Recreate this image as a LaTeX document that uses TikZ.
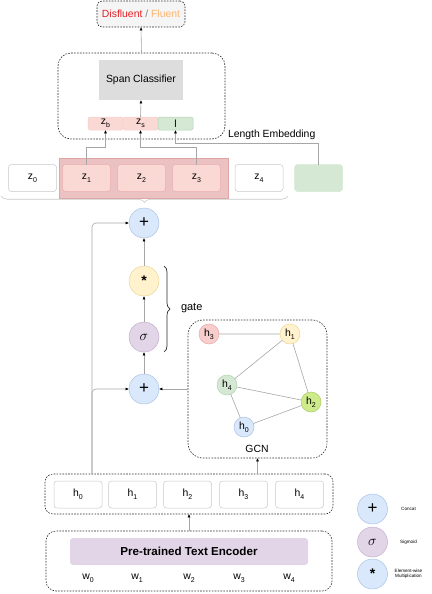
\documentclass[tikz,border=0pt]{standalone}
\usepackage{fontspec}
\setmainfont{Liberation Sans}
\usetikzlibrary{arrows.meta,decorations.pathreplacing,calc}
\definecolor{bluef}{HTML}{DAE8FC}
\definecolor{blued}{HTML}{A9C1E3}
\definecolor{yelf}{HTML}{FFF2CC}
\definecolor{yeld}{HTML}{EBD79A}
\definecolor{purf}{HTML}{E1D5E7}
\definecolor{purd}{HTML}{C3B0CC}
\definecolor{redf}{HTML}{F8CECC}
\definecolor{redd}{HTML}{E8AAA8}
\definecolor{grnf}{HTML}{D5E8D4}
\definecolor{grnd}{HTML}{B3D2B1}
\definecolor{limef}{HTML}{CDEB8B}
\definecolor{limed}{HTML}{A8CC66}
\definecolor{zbg}{HTML}{EBC1C1}
\definecolor{zbgd}{HTML}{E0A5A5}
\definecolor{zin}{HTML}{FAD9D5}
\definecolor{zind}{HTML}{E9AFAF}
\definecolor{wirec}{HTML}{A6A6A6}
\definecolor{dashc}{HTML}{2B2B2B}
\definecolor{cellb}{HTML}{C8C8C8}
\definecolor{disred}{HTML}{E31E24}
\definecolor{fluor}{HTML}{FFB570}
\definecolor{clsgray}{HTML}{DDDDDD}
\definecolor{outgray}{HTML}{F5F5F5}
\newcommand\lsub[1]{\raisebox{-0.3em}{\fontsize{7}{7}\selectfont #1}}
\begin{document}
\begin{tikzpicture}[x=1pt,y=-1pt,
  every node/.style={inner sep=0pt, outer sep=0pt, font=\fontsize{10.4}{12}\selectfont},
  wire/.style={draw=wirec, line width=0.6pt},
  arr/.style={wire, -{Latex[length=3.4pt,width=3pt,fill=black,color=black]}},
  dbox/.style={draw=dashc, dash pattern=on 1.6pt off 1.3pt, line width=0.6pt},
  op/.style={circle, minimum size=30pt, line width=0.5pt},
  gn/.style={circle, minimum size=20pt, line width=0.5pt},
  cell/.style={rectangle, rounded corners=3pt, minimum width=48pt, minimum height=27pt, line width=0.5pt, draw=cellb, fill=white},
  small/.style={font=\fontsize{4.6}{5.4}\selectfont, align=center},
]
\useasboundingbox (0,0) rectangle (431,594);

% ---------- output ----------
\node[dbox, rounded corners=5pt, fill=outgray, minimum width=88pt, minimum height=26pt] (out) at (141,14)
  {\textcolor{disred}{Disfluent} \textcolor{gray}{/} \textcolor{fluor}{Fluent}};

% ---------- classifier block ----------
\node[dbox, rounded corners=13pt, minimum width=167pt, minimum height=86pt] (clsbox) at (141.5,96) {};
\node[fill=clsgray, minimum width=84pt, minimum height=40pt] (cls) at (141,80) {Span Classifier};
\node[rectangle, rounded corners=1.5pt, fill=zin, draw=redf, line width=0.5pt, minimum width=35pt, minimum height=13pt] (zb) at (105.5,123.5) {z\lsub{b}};
\node[rectangle, rounded corners=1.5pt, fill=zin, draw=redf, line width=0.5pt, minimum width=35pt, minimum height=13pt] (zs) at (140.5,123.5) {z\lsub{s}};
\node[rectangle, rounded corners=1.5pt, fill=grnf, draw=grnd, line width=0.5pt, minimum width=35pt, minimum height=13pt] (lb) at (175.5,123.5) {l};
\node[anchor=west] (lenlab) at (228,135) {Length Embedding};

\draw[arr] (clsbox.north) -- (out.south);
\draw[arr] (zs.north) -- (cls.south);

% ---------- z row ----------
\node[fill=zbg, draw=zbgd, line width=0.5pt, minimum width=169pt, minimum height=40pt] (zbgbox) at (143.5,178) {};
\node[cell] (z0) at (32.5,178) {z\lsub{0}};
\node[cell, fill=zin, draw=zind] (z1) at (86.5,178) {z\lsub{1}};
\node[cell, fill=zin, draw=zind] (z2) at (141.5,178) {z\lsub{2}};
\node[cell, fill=zin, draw=zind] (z3) at (196.5,178) {z\lsub{3}};
\node[cell] (z4) at (259,178) {z\lsub{4}};
\node[cell, fill=grnf, draw=grnf] (lenemb) at (318.5,178) {};

\draw[arr] (z1.north) -- ++(0,-17) -| (zb.south);
\draw[arr] (z3.north) -- ++(0,-17) -| (zs.south);
\draw[arr] (lenemb.north) -- ++(0,-21) -| (lb.south);

\draw[draw=cellb, line width=0.6pt, decorate, decoration={brace, amplitude=6.5pt}] (288,196) -- (1,196);

% ---------- gate ----------
\node[op, fill=bluef, draw=blued] (plus1) at (144,223) {\fontsize{17}{17}\selectfont +};
\node[op, fill=yelf, draw=yeld] (star) at (144,281) {\fontsize{14}{14}\selectfont\bfseries *};
\node[op, fill=purf, draw=purd] (sig) at (144,337) {\fontsize{15}{15}\selectfont$\sigma$};
\node[op, fill=bluef, draw=blued] (plus2) at (144,389) {\fontsize{17}{17}\selectfont +};

\draw[arr] (star.north) -- (plus1.south);
\draw[arr] (sig.north) -- (star.south);
\draw[arr] (plus2.north) -- (sig.south);

\draw[draw=dashc, line width=0.7pt, decorate, decoration={brace, amplitude=6pt}] (164,266) -- (164,352);
\node[anchor=west, font=\fontsize{11}{12}\selectfont] (gate) at (181,308) {gate};

% ---------- GCN ----------
\node[dbox, rounded corners=15pt, minimum width=139pt, minimum height=138pt] (gcn) at (257.5,389) {};
\draw[draw=black!12, line width=1.6pt] (209,334) -- (290,334);
\node[gn, fill=redf, draw=redd] (g3) at (209,334) {h\lsub{3}};
\node[gn, fill=yelf, draw=yeld] (g1) at (290,334) {h\lsub{1}};
\node[gn, fill=grnf, draw=grnd] (g4) at (227,385) {h\lsub{4}};
\node[gn, fill=limef, draw=limed] (g2) at (311,402) {h\lsub{2}};
\node[gn, fill=bluef, draw=blued] (g0) at (244,427) {h\lsub{0}};
\node (gcnlab) at (257,449) {GCN};
\draw[wire] (g1) -- (g4);
\draw[wire] (g1) -- (g2);
\draw[wire] (g4) -- (g2);
\draw[wire] (g4) -- (g0);
\draw[wire] (g0) -- (g2);

\draw[arr] (gcn.west |- plus2) -- (plus2.east);

% ---------- h row ----------
\node[dbox, rounded corners=8pt, minimum width=288pt, minimum height=40pt] (hrow) at (189,494) {};
\node[cell] (h0) at (78,494.5) {h\lsub{0}};
\node[cell] (h1) at (132.5,494.5) {h\lsub{1}};
\node[cell] (h2) at (187.5,494.5) {h\lsub{2}};
\node[cell] (h3) at (243.5,494.5) {h\lsub{3}};
\node[cell] (h4) at (299.5,494.5) {h\lsub{4}};

\coordinate (lx) at (92,0);
\draw[arr, rounded corners=4pt] (hrow.north -| lx) |- (plus2.west);
\draw[arr, rounded corners=4pt] (hrow.north -| lx) |- (plus1.west);
\draw[arr] (hrow.north -| gcn.south) -- (gcn.south);

% ---------- encoder ----------
\node[dbox, rounded corners=10pt, minimum width=286pt, minimum height=60pt] (enc) at (189,561) {};
\node[rectangle, rounded corners=3pt, fill=purf, minimum width=238pt, minimum height=27pt, font=\fontsize{11.6}{13}\selectfont\bfseries] (pte) at (189,551.5) {Pre-trained Text Encoder};
\node (w0) at (88,578) {w\lsub{0}};
\node (w1) at (137,578) {w\lsub{1}};
\node (w2) at (189,578) {w\lsub{2}};
\node (w3) at (239,578) {w\lsub{3}};
\node (w4) at (289,578) {w\lsub{4}};

\draw[arr] (enc.north) -- (hrow.south);

% ---------- legend ----------
\node[op, fill=bluef, draw=blued] (lg1) at (372.5,509) {\fontsize{17}{17}\selectfont +};
\node[op, fill=purf, draw=purd] (lg2) at (372.5,542) {\fontsize{15}{15}\selectfont$\sigma$};
\node[op, fill=bluef, draw=blued] (lg3) at (372.5,574) {\fontsize{14}{14}\selectfont\bfseries *};
\node[small] (lt1) at (408.5,509) {Concat};
\node[small] (lt2) at (408.5,542) {Sigmoid};
\node[small] (lt3) at (408.5,574) {Element-wise\\Multiplication};
\end{tikzpicture}
\end{document}
